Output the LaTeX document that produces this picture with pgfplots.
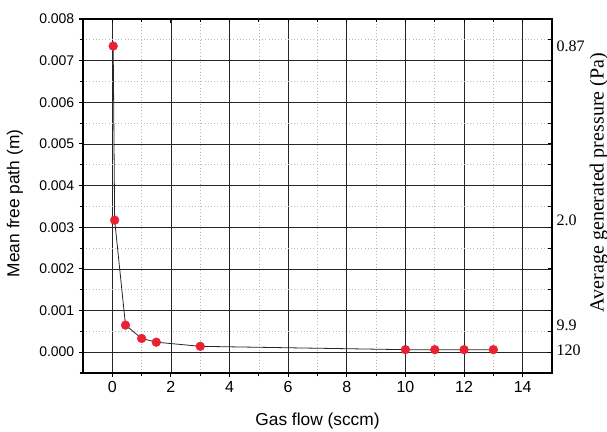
\documentclass[border=0pt]{standalone}
\usepackage{fontspec}
\setmainfont{Liberation Sans}
\newfontfamily\timesf{Liberation Serif}
\usepackage{pgfplots}
\pgfplotsset{compat=1.18}
\definecolor{dotred}{RGB}{233,33,50}
\begin{document}
\begin{tikzpicture}
\pgfplotsset{
  frame/.style={
    scale only axis,
    width=351.75pt, height=265.5pt,
    xmin=-1, xmax=15, ymin=-0.0005, ymax=0.008,
    axis line style={line width=0.9pt},
    scaled y ticks=false,
    /pgf/number format/assume math mode=true,
  }
}
\begin{axis}[
  frame,
  name=main,
  xtick={0,2,4,6,8,10,12,14},
  minor xtick={1,3,5,7,9,11,13},
  ytick={0,0.001,0.002,0.003,0.004,0.005,0.006,0.007,0.008},
  minor ytick={-0.0005,0.0005,0.0015,0.0025,0.0035,0.0045,0.0055,0.0065,0.0075},
  xtick pos=lower, ytick pos=left,
  tick align=outside,
  major tick length=3pt, minor tick length=2.5pt,
  tick style={line width=0.8pt, black},
  grid=both,
  major grid style={black!85, line width=0.55pt},
  minor grid style={gray!55, dotted, line width=0.5pt},
  yticklabel style={font=\fontsize{10.5}{12}\selectfont,
    /pgf/number format/fixed, /pgf/number format/fixed zerofill,
    /pgf/number format/precision=3},
  xticklabel style={font=\fontsize{12}{14}\selectfont},
  xlabel={Gas flow (sccm)},
  ylabel={Mean free path (m)},
  label style={font=\fontsize{13}{15}\selectfont},
  xlabel style={at={(axis description cs:0.5,-0.136)}, anchor=center},
  ylabel style={at={(axis description cs:-0.145,0.479)}, anchor=center},
]
\addplot[black!85, line width=0.6pt, mark=*, mark size=3.3pt,
  mark options={fill=dotred, draw=dotred, solid, line width=0.3pt}] coordinates {
  (0.03,0.00735)
  (0.08,0.00317)
  (0.45,0.00065)
  (1.0,0.00033)
  (1.5,0.00024)
  (3,0.00014)
  (10,0.00006)
  (11,0.00006)
  (12,0.00006)
  (13,0.00006)
};
\end{axis}
\begin{axis}[
  frame,
  xtick={0,2,4,6,8,10,12,14},
  minor xtick={1,3,5,7,9,11,13},
  xticklabels={},
  ytick={-0.0005,0,0.0005,0.001,0.0015,0.002,0.0025,0.003,0.0035,0.004,0.0045,0.005,0.0055,0.006,0.0065,0.007,0.0075},
  yticklabels={},
  xtick pos=upper, ytick pos=right, yticklabel pos=right,
  tick align=inside,
  major tick length=3pt, minor tick length=2.5pt,
  tick style={line width=0.8pt, black},
  extra y ticks={0.00735,0.00317,0.00065,0.00005},
  extra y tick labels={0.87,2.0,9.9,120},
  extra y tick style={major tick length=0pt},
  ticklabel style={font=\timesf\fontsize{12}{14}\selectfont},
  ylabel={Average generated pressure (Pa)},
  ylabel style={font=\timesf\fontsize{15}{17}\selectfont,
    at={(axis description cs:1.1,0.538)}, anchor=center},
]
\end{axis}
\pgfresetboundingbox
\path ([shift={(-62.25pt,-44.25pt)}]main.south west) rectangle ([shift={(41.25pt,14.25pt)}]main.north east);
\end{tikzpicture}
\end{document}
